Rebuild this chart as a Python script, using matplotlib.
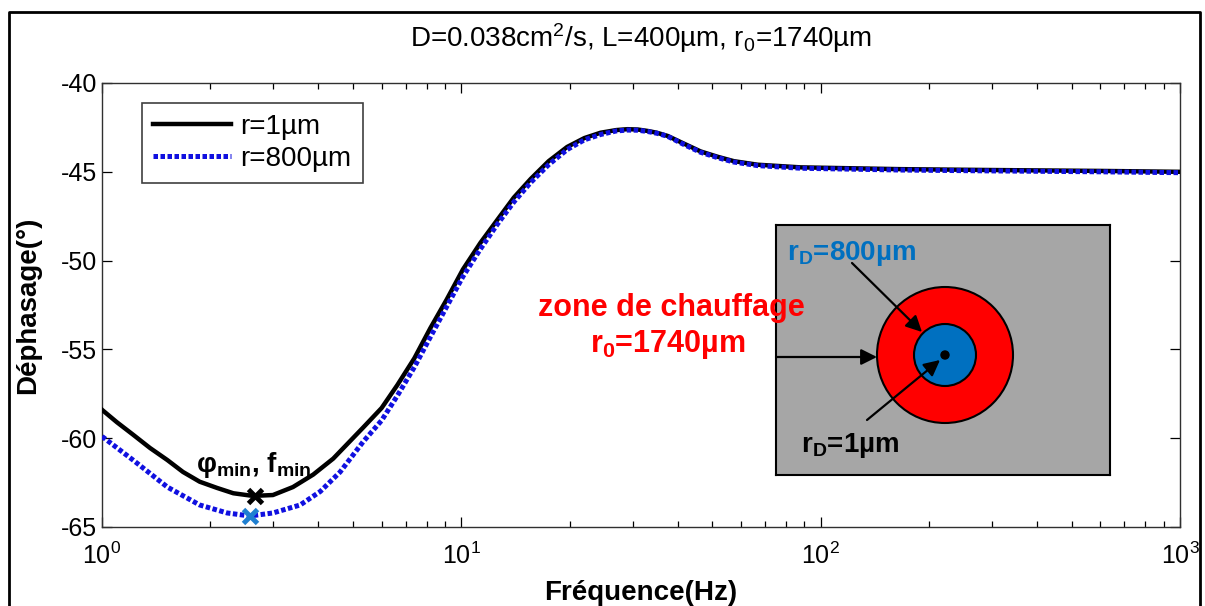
#!/usr/bin/env python3
"""Phase shift vs frequency for two detector radii, with a sketch of the heated zone."""

import matplotlib
matplotlib.use("Agg")
import matplotlib.pyplot as plt
from matplotlib.patches import Circle
from matplotlib.lines import Line2D

plt.rcParams["font.family"] = ["Liberation Sans", "DejaVu Sans"]
plt.rcParams["mathtext.fontset"] = "custom"
plt.rcParams["mathtext.rm"] = "Liberation Sans"
plt.rcParams["mathtext.it"] = "Liberation Sans"
plt.rcParams["mathtext.bf"] = "Liberation Sans:bold"
plt.rcParams["axes.unicode_minus"] = False

# data
freq_r1 = [1.0, 1.10, 1.22, 1.36, 1.52, 1.68, 1.87, 2.09, 2.32, 2.63, 2.99, 3.40, 3.87,
           4.40, 5.33, 6.0, 6.64, 7.4, 8.2, 9.1, 10.1, 11.3, 12.6, 14.0, 15.6, 17.5,
           19.7, 22.0, 24.4, 27.0, 29.0, 31.0, 33.0, 35.0, 37.5, 41.5, 46.3, 51.6, 57.3,
           66.7, 88.0, 166.0, 300.0, 600.0, 1000.0]
phase_r1 = [-58.4, -59.1, -59.8, -60.55, -61.23, -61.9, -62.45, -62.8, -63.1, -63.25,
            -63.2, -62.75, -62.05, -61.15, -59.4, -58.3, -57.0, -55.5, -53.8, -52.2,
            -50.5, -49.0, -47.7, -46.45, -45.4, -44.4, -43.6, -43.1, -42.8, -42.65,
            -42.6, -42.62, -42.7, -42.8, -42.98, -43.4, -43.85, -44.15, -44.4, -44.6,
            -44.75, -44.85, -44.9, -44.95, -45.0]
freq_r800 = [1.0, 1.22, 1.52, 1.87, 2.23, 2.58, 2.99, 3.56, 4.05, 4.6, 5.33, 6.0, 6.64,
             7.4, 8.2, 9.1, 10.1, 11.3, 12.6, 14.0, 15.6, 17.5, 19.7, 22.0, 24.4, 27.0,
             29.0, 31.0, 33.0, 35.0, 37.5, 41.5, 46.3, 51.6, 57.3, 66.7, 88.0, 166.0,
             300.0, 600.0, 1000.0]
phase_r800 = [-59.9, -61.23, -62.75, -63.76, -64.21, -64.38, -64.21, -63.76, -63.0,
              -61.9, -60.2, -59.0, -57.6, -56.0, -54.3, -52.6, -50.9, -49.35, -47.95,
              -46.7, -45.6, -44.6, -43.75, -43.2, -42.9, -42.7, -42.65, -42.66, -42.73,
              -42.83, -43.0, -43.45, -43.9, -44.2, -44.45, -44.65, -44.8, -44.9, -44.95,
              -45.0, -45.05]
fmin_r1, phimin_r1 = 2.67, -63.25
fmin_r800, phimin_r800 = 2.58, -64.4

W, H = 1205, 606


def fx(px):
    return px / W


def fy(py):
    return 1 - py / H


fig = plt.figure(figsize=(W / 100, H / 100), dpi=100)

ax = fig.add_axes([fx(102), fy(527), (1180 - 102) / W, (527 - 83) / H])
ax.plot(freq_r1, phase_r1, color="black", lw=3.2, label="r=1µm", zorder=3)
ax.plot(freq_r800, phase_r800, color="#1010e0", lw=3.6, dashes=(0.9, 0.5),
        label="r=800µm", zorder=4)
ax.plot([fmin_r1], [phimin_r1], marker="x", color="black", ms=10, mew=3.5, zorder=5)
ax.plot([fmin_r800], [phimin_r800], marker="x", color="#1f7fd0", ms=10, mew=3.5, zorder=5)

ax.set_xscale("log")
ax.set_xlim(1, 1000)
ax.set_ylim(-65, -40)
ax.set_yticks([-65, -60, -55, -50, -45, -40])
ax.tick_params(which="both", direction="in", top=True, right=True, labelsize=18)
ax.tick_params(which="major", length=7, width=0.9)
ax.tick_params(which="minor", length=4, width=0.9)
ax.tick_params(axis="x", pad=11)
for s in ax.spines.values():
    s.set_linewidth(1.0)
    s.set_color("#303030")

ax.text(2.64, -61.5, r"φ$_{\mathbf{min}}$, f$_{\mathbf{min}}$", fontsize=20,
        fontweight="bold", ha="center", va="center")

leg = ax.legend(loc="upper left", bbox_to_anchor=(0.037, 0.955), borderaxespad=0,
                fontsize=20, handlelength=2.8, handletextpad=0.35, borderpad=0.4,
                labelspacing=0.22, fancybox=False, framealpha=1, edgecolor="#404040")
leg.get_frame().set_linewidth(1.2)

fig.text(fx(641), fy(38), r"D=0.038cm$^2$/s, L=400µm, r$_0$=1740µm", fontsize=20,
         ha="center", va="center")
fig.text(fx(641), fy(593), "Fréquence(Hz)", fontsize=20, fontweight="bold",
         ha="center", va="center")
fig.text(fx(28), fy(305), "Déphasage(°)", fontsize=20, fontweight="bold",
         ha="center", va="center", rotation=90)

# inset sketch in pixel units
x0, y0, x1, y1 = 776, 225, 1110, 475
ins = fig.add_axes([fx(x0), fy(y1), (x1 - x0) / W, (y1 - y0) / H])
ins.set_xlim(0, x1 - x0)
ins.set_ylim(y1 - y0, 0)
ins.set_facecolor("#a6a6a6")
ins.set_xticks([])
ins.set_yticks([])
for s in ins.spines.values():
    s.set_linewidth(1.5)
    s.set_color("black")

cx, cy = 945 - x0, 355 - y0
ins.add_patch(Circle((cx, cy), 68, facecolor="#ff0000", edgecolor="black", lw=1.5))
ins.add_patch(Circle((cx, cy), 31, facecolor="#0070c0", edgecolor="black", lw=1.5))
ins.add_patch(Circle((cx, cy), 4, facecolor="black", edgecolor="black"))

arrow = dict(arrowstyle="-|>", color="black", lw=1.6, mutation_scale=24,
             shrinkA=0, shrinkB=0)
ins.annotate("", xy=(146, 107), xytext=(76, 38), arrowprops=arrow)
ins.annotate("", xy=(101, 132), xytext=(0, 132), arrowprops=arrow)
ins.annotate("", xy=(164, 135), xytext=(91, 195), arrowprops=arrow)

ins.text(11, 28, r"r$_{\mathbf{D}}$=800µm", color="#0070c0", fontsize=20,
         fontweight="bold", ha="left", va="center")
ins.text(25, 221, r"r$_{\mathbf{D}}$=1µm", color="black", fontsize=20,
         fontweight="bold", ha="left", va="center")

# heated-zone label sits on top of the inset
fig.text(fx(671), fy(308), "zone de chauffage", color="red", fontsize=22,
         fontweight="bold", ha="center", va="center", zorder=10)
fig.text(fx(668), fy(345), r"r$_{\mathbf{0}}$=1740µm", color="red", fontsize=22,
         fontweight="bold", ha="center", va="center", zorder=10)

# frame around the whole picture (bottom edge cut off in the original)
frame = Line2D([fx(9), fx(9), fx(1200), fx(1200)], [0, fy(12), fy(12), 0],
               transform=fig.transFigure, color="black", lw=2)
fig.add_artist(frame)

fig.savefig("out.png", dpi=100)
